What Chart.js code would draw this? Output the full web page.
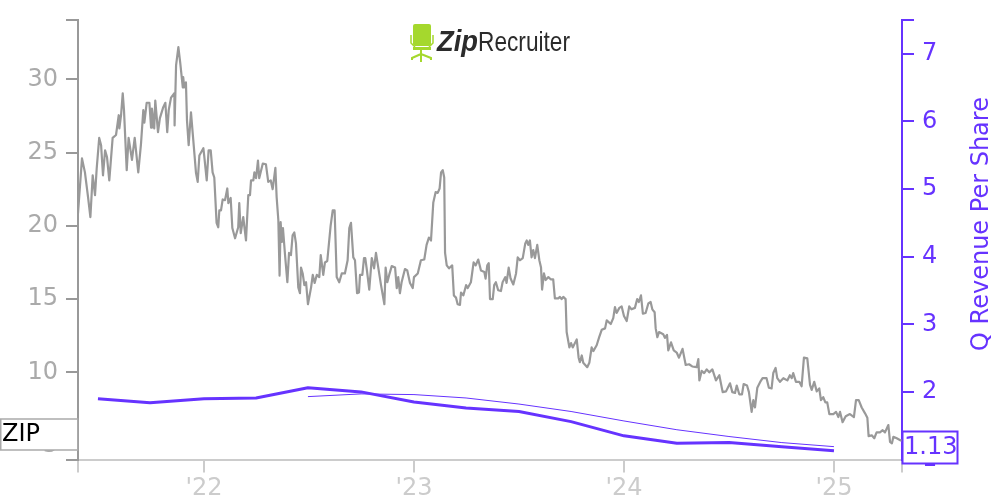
<!DOCTYPE html>
<html>
<head>
<meta charset="utf-8">
<title>ZIP Q Revenue Per Share</title>
<script src="https://cdn.jsdelivr.net/npm/chart.js@4"></script>
<style>
    html, body { margin: 0; padding: 0; background: #fff; }
    canvas { display: block; }
</style>
</head>
<body>
<canvas id="zipChart" width="1000" height="500"></canvas>
<script>
// Share price, dates as decimal years
const priceDates = [
    2021.4,2021.419,2021.433,2021.448,2021.459,2021.47,2021.481,2021.489,2021.501,2021.51,2021.519,2021.529,2021.538,2021.549,2021.565,2021.581,2021.594,2021.597,2021.605,2021.613,
    2021.619,2021.632,2021.641,2021.657,2021.67,2021.687,2021.7,2021.711,2021.716,2021.727,2021.74,2021.748,2021.752,2021.763,2021.768,2021.781,2021.79,2021.806,2021.816,2021.825,
    2021.832,2021.843,2021.859,2021.86,2021.867,2021.878,2021.887,2021.899,2021.901,2021.906,2021.914,2021.919,2021.927,2021.938,2021.949,2021.962,2021.97,2021.978,2021.997,2022.001,
    2022.013,2022.022,2022.032,2022.041,2022.049,2022.06,2022.068,2022.073,2022.081,2022.089,2022.1,2022.111,2022.116,2022.127,2022.135,2022.148,2022.163,2022.168,2022.175,2022.187,
    2022.2,2022.211,2022.219,2022.224,2022.235,2022.24,2022.248,2022.257,2022.263,2022.28,2022.295,2022.306,2022.318,2022.327,2022.34,2022.346,2022.354,2022.36,2022.365,2022.371,
    2022.376,2022.386,2022.397,2022.405,2022.414,2022.422,2022.43,2022.438,2022.449,2022.457,2022.462,2022.47,2022.478,2022.486,2022.495,2022.51,2022.518,2022.527,2022.537,2022.549,
    2022.556,2022.568,2022.576,2022.587,2022.603,2022.613,2022.622,2022.632,2022.644,2022.656,2022.671,2022.684,2022.692,2022.7,2022.711,2022.719,2022.729,2022.738,2022.743,2022.754,
    2022.762,2022.768,2022.776,2022.787,2022.799,2022.81,2022.819,2022.83,2022.843,2022.859,2022.865,2022.873,2022.882,2022.894,2022.91,2022.918,2022.925,2022.933,2022.941,2022.957,
    2022.968,2022.981,2022.994,2023.0,2023.018,2023.033,2023.049,2023.06,2023.071,2023.081,2023.092,2023.103,2023.113,2023.122,2023.129,2023.137,2023.144,2023.148,2023.156,2023.167,
    2023.182,2023.19,2023.2,2023.208,2023.219,2023.224,2023.235,2023.248,2023.256,2023.271,2023.284,2023.294,2023.306,2023.319,2023.335,2023.341,2023.349,2023.356,2023.362,2023.375,
    2023.382,2023.39,2023.401,2023.414,2023.422,2023.435,2023.441,2023.451,2023.46,2023.473,2023.486,2023.494,2023.505,2023.518,2023.53,2023.537,2023.544,2023.552,2023.56,2023.568,
    2023.576,2023.587,2023.597,2023.605,2023.61,2023.619,2023.627,2023.64,2023.651,2023.663,2023.671,2023.687,2023.695,2023.703,2023.711,2023.722,2023.727,2023.74,2023.748,2023.756,
    2023.775,2023.784,2023.79,2023.799,2023.806,2023.825,2023.835,2023.846,2023.854,2023.87,2023.882,2023.894,2023.91,2023.918,2023.937,2023.949,2023.957,2023.965,2023.978,2023.989,
    2024.0,2024.013,2024.025,2024.036,2024.052,2024.063,2024.071,2024.081,2024.09,2024.103,2024.116,2024.127,2024.135,2024.146,2024.151,2024.159,2024.167,2024.187,2024.195,2024.205,
    2024.211,2024.224,2024.237,2024.251,2024.262,2024.279,2024.294,2024.31,2024.325,2024.346,2024.354,2024.359,2024.37,2024.382,2024.394,2024.406,2024.421,2024.438,2024.454,2024.47,
    2024.486,2024.505,2024.516,2024.529,2024.537,2024.549,2024.562,2024.57,2024.586,2024.595,2024.608,2024.616,2024.624,2024.635,2024.651,2024.66,2024.679,2024.69,2024.703,2024.711,
    2024.722,2024.73,2024.743,2024.759,2024.778,2024.79,2024.799,2024.806,2024.819,2024.835,2024.846,2024.857,2024.873,2024.886,2024.894,2024.906,2024.918,2024.93,2024.938,2024.949,
    2024.959,2024.968,2024.978,2024.997,2025.01,2025.021,2025.029,2025.041,2025.056,2025.076,2025.095,2025.105,2025.118,2025.132,2025.148,2025.159,2025.165,2025.18,2025.192,2025.203,
    2025.219,2025.232,2025.243,2025.259,2025.267,2025.276,2025.283,2025.299,2025.318,2025.324
];
const priceValues = [
    20.85,24.6,23.65,21.95,20.6,23.45,22.1,23.9,26,25.5,23.45,25.15,24.7,23.1,26,26.2,27.55,26.65,27.55,29.05,
    27.9,23.8,26,24.5,26,23.65,25.6,27.9,27.05,28.4,28.4,26.7,28,26.65,28.55,26.4,27.35,28.1,28.4,26.4,
    27.9,28.75,29.05,26.85,30.95,32.2,31.1,29.45,30.15,29.45,29.8,27.2,25.5,27.75,25.85,23.6,23,24.8,25.3,24.8,
    23.1,25.15,25.15,23.65,23.3,20.2,19.9,21.05,21.05,21.8,21.75,22.55,21.55,21.9,19.85,19.15,19.9,21.55,19.5,20.6,
    19,22.1,22.1,23.1,23.1,23.65,23.25,24.45,23.25,24.25,24.2,23,23.1,22.5,23.95,21.95,20.4,16.6,20.25,18.9,
    19.85,18,16.15,18.15,18,19.35,19.55,18.8,15.8,15.4,17.15,16.75,15.95,16.15,14.65,15.8,16.65,16.1,16.65,16.5,
    18,16.65,17.5,17.6,20,21.05,21.05,16.5,16.15,16.75,16.75,17.65,19.85,20.2,17.85,17.65,15.4,15.45,16.65,16.65,
    17.8,17.8,16.95,15.65,17.8,17.1,18.15,17.15,15.95,14.65,17.15,16.15,16.65,17.25,17.15,15.75,16.5,15.4,16.15,17.05,
    16.95,16.1,15.75,16.5,16.75,17.65,17.7,18.7,19.2,19,21.6,22.3,22.25,22.55,23.65,23.8,23.3,18.15,17.3,17.1,
    17.3,15.25,15.1,14.65,14.6,15.45,15.25,15.95,15.75,16.15,17.5,17.3,17.7,16.95,16.85,16.4,17.3,17.45,15,15,
    15.95,16.15,15.6,15.55,16.15,16.5,16.1,17.15,16.4,16,16.75,17.85,17.65,17.8,18.8,19,18.7,19,17.85,18.35,
    17.8,18.7,17.65,17.15,15.65,16.75,16.3,16.5,16.35,16.35,15.05,15.05,15.15,15,15.15,15,12.75,11.7,12,11.7,
    12.25,11,10.7,11.15,10.65,10.35,10.65,11.7,11.45,11.85,12.4,12.9,13,13.55,13.3,13.7,14.45,14.05,14.4,14.5,
    13.85,13.5,14.5,14.3,14.4,15,14.8,15.25,14,14.05,14.7,14.8,14.3,14.1,13,12.4,12.75,12.6,12.35,12.55,
    11.5,12.05,11.5,11.35,11,11.6,10.5,10.55,10.4,10.35,10.9,9.45,10.1,9.95,10.2,10,10.2,9.45,9.8,8.65,
    8.7,9.25,8.65,8.6,9.1,8.5,8.5,9.2,9.1,8.65,7.3,8.1,7.6,8.95,9.4,9.6,9.6,8.95,8.9,9.95,
    10.3,9.6,9.35,9.6,9.45,9.8,9.6,9.95,9.35,9.35,9.05,11,10.95,9.15,8.8,9.35,8.7,8.9,8.1,8.3,
    7.95,7.95,7.15,7.15,7.3,6.95,7.3,6.6,7,7.15,6.95,8.1,8.1,7.6,7.2,6.9,5.65,5.7,5.5,5.9,
    5.9,6.05,5.9,6.4,5.25,5.15,5.6,5.5,5.35,5.35
];

// Quarterly revenue per share, actual and the thin later series
const revenueDates = [2021.495,2021.743,2022,2022.248,2022.495,2022.748,2023,2023.248,2023.5,2023.748,2024,2024.252,2024.5,2024.752,2025];
const revenueValues = [1.90,1.84,1.90,1.91,2.06,2.00,1.85,1.76,1.71,1.56,1.35,1.24,1.25,1.19,1.13];
const estimateDates = [2022.495,2022.748,2023,2023.248,2023.5,2023.748,2024,2024.252,2024.5,2024.752,2025];
const estimateValues = [1.93,1.97,1.96,1.91,1.82,1.71,1.57,1.44,1.34,1.25,1.19];

// Axis ticks
const yearTicks = [2022,2023,2024,2025];
const yearLabels = ["'22","'23","'24","'25"];
const priceTicks = [5,10,15,20,25,30];
const revenueTicks = [1,2,3,4,5,6,7];

const tickerLabel = 'ZIP';
const lastRevenueLabel = '1.13';
const rightTitle = 'Q Revenue Per Share';

const xMin = 2021.4, xMax = 2025.324;
const priceMin = 4.05, priceMax = 34.05;
const revMin = 1, revMax = 7.5;

const GRAY = '#999999';
const PURPLE = '#6633ff';
const FONT = '"DejaVu Sans"';

const toPoints = (xs, ys) => xs.map((x, i) => ({ x: x, y: ys[i] }));

// Draws the logo, the right axis title and the two label boxes over the axes
const overlayPlugin = {
    id: 'overlay',
    afterDraw(chart) {
        const ctx = chart.ctx;
        ctx.save();

        // ticker box on the left
        ctx.fillStyle = '#fff';
        ctx.strokeStyle = '#aaaaaa';
        ctx.lineWidth = 1.5;
        ctx.fillRect(0.75, 419, 77, 31);
        ctx.strokeRect(0.75, 419, 77, 31);
        ctx.fillStyle = '#000';
        ctx.font = '24px ' + FONT;
        ctx.textAlign = 'left';
        ctx.textBaseline = 'middle';
        ctx.fillText(tickerLabel, 2, 435);

        // last value box on the right
        ctx.fillStyle = '#fff';
        ctx.strokeStyle = PURPLE;
        ctx.lineWidth = 2;
        ctx.fillRect(902.5, 431.5, 55, 32);
        ctx.strokeRect(902.5, 431.5, 55, 32);
        ctx.fillStyle = PURPLE;
        ctx.fillText(lastRevenueLabel, 904, 447.5);

        // right axis title
        ctx.save();
        ctx.translate(982, 224);
        ctx.rotate(-Math.PI / 2);
        ctx.textAlign = 'center';
        ctx.font = '24px ' + FONT;
        ctx.fillText(rightTitle, 0, 0);
        ctx.restore();

        // logo: chair
        const GREEN = '#a5d82d';
        ctx.fillStyle = GREEN;
        ctx.strokeStyle = GREEN;
        ctx.beginPath();
        ctx.roundRect(413, 24, 18, 22, 2);
        ctx.fill();
        ctx.lineWidth = 1.5;
        ctx.beginPath();
        ctx.moveTo(411, 35); ctx.lineTo(411, 43); ctx.lineTo(415, 47);
        ctx.moveTo(433, 35); ctx.lineTo(433, 43); ctx.lineTo(429, 47);
        ctx.stroke();
        ctx.fillRect(413, 47, 18, 3);
        ctx.lineWidth = 2;
        ctx.beginPath();
        ctx.moveTo(421, 50); ctx.lineTo(421, 62);
        ctx.moveTo(421, 54); ctx.lineTo(412, 58); ctx.lineTo(412, 60);
        ctx.moveTo(421, 54); ctx.lineTo(431, 58); ctx.lineTo(431, 60);
        ctx.stroke();

        // logo: wordmark
        ctx.fillStyle = '#2b2b2b';
        ctx.textAlign = 'left';
        ctx.textBaseline = 'alphabetic';
        ctx.font = 'italic bold 30px "Liberation Sans"';
        ctx.fillText('Zip', 437, 51, 41);
        ctx.font = '28px "Liberation Sans"';
        ctx.fillText('Recruiter', 478, 51, 92);

        ctx.restore();
    }
};

const sideScale = (min, max, position, width, color, labelColor, values) => ({
    type: 'linear',
    position: position,
    min: min,
    max: max,
    afterBuildTicks: scale => {
        scale.ticks = [min, ...values.filter(v => v > min), max].map(v => ({ value: v }));
    },
    afterFit: scale => {
        scale.width = width;
        scale.paddingTop = 0;
        scale.paddingBottom = 0;
    },
    border: { color: color, width: 2 },
    grid: { drawOnChartArea: false, color: color, tickColor: color, tickLength: 12, lineWidth: 2 },
    ticks: {
        autoSkip: false,
        color: labelColor,
        padding: 8,
        font: { family: FONT, size: 24 },
        callback: value => (values.includes(value) ? String(value) : '')
    }
});

new Chart(document.getElementById('zipChart'), {
    type: 'line',
    data: {
        datasets: [
            {
                data: toPoints(priceDates, priceValues),
                yAxisID: 'yPrice',
                borderColor: GRAY,
                borderWidth: 2.2,
                borderJoinStyle: 'round',
                pointRadius: 0,
                tension: 0
            },
            {
                data: toPoints(estimateDates, estimateValues),
                yAxisID: 'yRevenue',
                borderColor: PURPLE,
                borderWidth: 1,
                pointRadius: 0,
                tension: 0
            },
            {
                data: toPoints(revenueDates, revenueValues),
                yAxisID: 'yRevenue',
                borderColor: PURPLE,
                borderWidth: 3,
                borderJoinStyle: 'round',
                pointRadius: 0,
                tension: 0
            }
        ]
    },
    plugins: [overlayPlugin],
    options: {
        responsive: false,
        animation: false,
        layout: { padding: { top: 20 } },
        plugins: { legend: { display: false }, tooltip: { enabled: false } },
        scales: {
            x: {
                type: 'linear',
                min: xMin,
                max: xMax,
                afterBuildTicks: scale => {
                    scale.ticks = [xMin, ...yearTicks, xMax].map(v => ({ value: v }));
                },
                afterFit: scale => { scale.height = 40.5; },
                border: { color: '#cccccc', width: 2 },
                grid: { drawOnChartArea: false, color: '#cccccc', tickColor: '#cccccc', tickLength: 13, lineWidth: 2 },
                ticks: {
                    autoSkip: false,
                    maxRotation: 0,
                    color: '#cccccc',
                    padding: 2,
                    font: { family: FONT, size: 24 },
                    callback: value => {
                        const i = yearTicks.indexOf(value);
                        return i >= 0 ? yearLabels[i] : '';
                    }
                }
            },
            yPrice: sideScale(priceMin, priceMax, 'left', 78, GRAY, '#aaaaaa', priceTicks),
            yRevenue: sideScale(revMin, revMax, 'right', 98, PURPLE, PURPLE, revenueTicks)
        }
    }
});
</script>
</body>
</html>
